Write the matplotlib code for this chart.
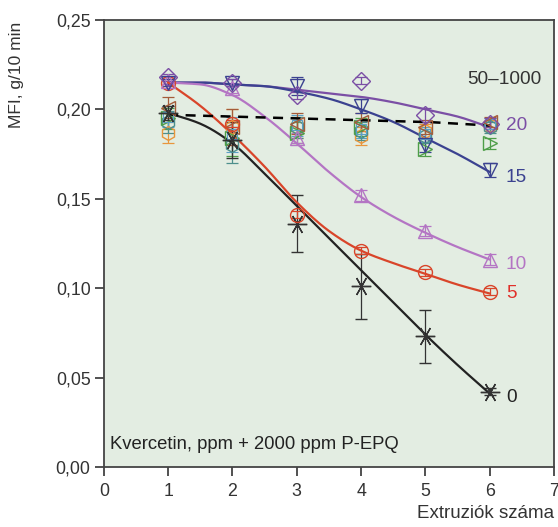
import numpy as np
import matplotlib.pyplot as plt

plt.rcParams['font.family'] = ['Liberation Sans', 'DejaVu Sans']

extr = [1, 2, 3, 4, 5, 6]

# mért pontok (MFI, g/10 min)
mfi_0 = [0.198, 0.183, 0.136, 0.101, 0.073, 0.042]
err_0 = [0.004, 0.010, 0.016, 0.018, 0.015, 0.002]
mfi_5 = [0.215, 0.192, 0.141, 0.121, 0.109, 0.098]
mfi_10 = [0.216, 0.212, 0.184, 0.152, 0.132, 0.116]
err_10 = [0.002, 0.003, 0.003, 0.003, 0.003, 0.003]
mfi_15 = [0.215, 0.215, 0.213, 0.202, 0.180, 0.166]
err_15 = [0.002, 0.002, 0.005, 0.004, 0.004, 0.004]
mfi_20 = [0.218, 0.215, 0.208, 0.216, 0.197, 0.192]
err_20 = [0.002, 0.002, 0.002, 0.002, 0.004, 0.003]

# 50-1000 ppm csoport
mfi_50 = [0.201, 0.190, 0.192, 0.193, 0.190, 0.193]
mfi_100 = [0.195, 0.184, 0.187, 0.190, 0.178, 0.181]
mfi_250 = [0.193, 0.180, 0.190, 0.188, 0.185, 0.190]
mfi_500 = [0.187, 0.190, 0.190, 0.185, 0.188, 0.191]
mfi_1000 = [0.196, 0.186, 0.191, 0.189, 0.186, 0.192]
err_grp = [0.006, 0.010, 0.006, 0.005, 0.004, 0.003]

# illesztett görbék, leolvasva fél lépésenként
fit_x = [1, 1.5, 2, 2.5, 3, 3.5, 4, 4.5, 5, 5.5, 6]
fit_0 = [0.198, 0.192, 0.181, 0.164, 0.146, 0.128, 0.110, 0.092, 0.074, 0.057, 0.041]
fit_5 = [0.215, 0.202, 0.186, 0.168, 0.148, 0.132, 0.121, 0.114, 0.108, 0.102, 0.097]
fit_10 = [0.215, 0.214, 0.208, 0.196, 0.181, 0.165, 0.151, 0.140, 0.131, 0.123, 0.116]
fit_15 = [0.215, 0.215, 0.214, 0.213, 0.210, 0.206, 0.200, 0.193, 0.184, 0.175, 0.165]
fit_20 = [0.215, 0.215, 0.214, 0.213, 0.211, 0.209, 0.207, 0.204, 0.200, 0.196, 0.190]
fit_grp = [0.197, 0.1965, 0.196, 0.1955, 0.195, 0.1945, 0.194, 0.1935, 0.193, 0.192, 0.191]


def smooth(xs, ys, n=20):
    # monoton köbös Hermite simítás a leolvasott pontokon
    xs = np.asarray(xs, float)
    ys = np.asarray(ys, float)
    h = np.diff(xs)
    d = np.diff(ys) / h
    m = np.zeros_like(ys)
    m[0], m[-1] = d[0], d[-1]
    for i in range(1, len(ys) - 1):
        if d[i - 1] * d[i] > 0:
            m[i] = 2 / (1 / d[i - 1] + 1 / d[i])
    xo, yo = [], []
    for i in range(len(h)):
        t = np.linspace(0, 1, n, endpoint=False)
        h00 = 2 * t**3 - 3 * t**2 + 1
        h10 = t**3 - 2 * t**2 + t
        h01 = -2 * t**3 + 3 * t**2
        h11 = t**3 - t**2
        xo.extend(xs[i] + t * h[i])
        yo.extend(h00 * ys[i] + h10 * h[i] * m[i] + h01 * ys[i + 1] + h11 * h[i] * m[i + 1])
    xo.append(xs[-1])
    yo.append(ys[-1])
    return np.array(xo), np.array(yo)


fig = plt.figure(figsize=(5.58, 5.27), dpi=100)
ax = fig.add_axes([0.186, 0.114, 0.807, 0.848])
ax.set_facecolor('#e3ede2')

c0 = '#222222'
c5 = '#d9452a'
c10 = '#b475c4'
c15 = '#3b4290'
c20 = '#7b4fa5'

mk = dict(markersize=10, markerfacecolor='none', linestyle='none', capsize=4, elinewidth=0.9, capthick=0.9)

# 50-1000 csoport
ax.errorbar(extr, mfi_500, yerr=err_grp, marker='h', color='#e8963c', **mk)
ax.errorbar(extr, mfi_250, yerr=err_grp, marker='h', color='#4d8f8c', **mk)
ax.errorbar(extr, mfi_100, yerr=err_grp, marker='>', color='#4e9e48', **mk)
ax.errorbar(extr, mfi_1000, yerr=err_grp, marker='s', color='#5b9fc6', markeredgewidth=0.8,
            markersize=7, markerfacecolor='none', linestyle='none', capsize=4, elinewidth=0.9)
ax.errorbar(extr, mfi_50, yerr=err_grp, marker='<', color='#a45c3a', **mk)

ax.errorbar(extr, mfi_0, yerr=err_0, marker=(6, 2, 90), color='#333333', markersize=14,
            linestyle='none', capsize=4, elinewidth=0.9, capthick=0.9, markeredgewidth=1.0)
ax.errorbar(extr, mfi_5, yerr=[0.002] * 6, marker='o', color=c5, **mk)
ax.errorbar(extr, mfi_10, yerr=err_10, marker='^', color=c10, **mk)
ax.errorbar(extr, mfi_15, yerr=err_15, marker='v', color=c15, **mk)
ax.errorbar(extr, mfi_20, yerr=err_20, marker='D', color=c20, markersize=9,
            markerfacecolor='none', linestyle='none', capsize=4, elinewidth=0.9, capthick=0.9)

# görbék
for fy, col in [(fit_20, c20), (fit_15, c15), (fit_10, c10), (fit_5, c5), (fit_0, c0)]:
    sx, sy = smooth(fit_x, fy)
    ax.plot(sx, sy, color=col, linewidth=1.6)
sx, sy = smooth(fit_x, fit_grp)
ax.plot(sx, sy, color='black', linewidth=1.8, linestyle=(0, (4, 3)))

# címkék
ax.text(5.65, 0.217, '50–1000', fontsize=13.7, color='#333333', va='center')
ax.text(6.25, 0.191, '20', fontsize=13.7, color=c20, va='center')
ax.text(6.25, 0.162, '15', fontsize=13.7, color=c15, va='center')
ax.text(6.25, 0.113, '10', fontsize=13.7, color=c10, va='center')
ax.text(6.25, 0.097, '5', fontsize=13.7, color='#e0302a', va='center')
ax.text(6.25, 0.039, '0', fontsize=13.7, color='#222222', va='center')
ax.text(0.1, 0.008, 'Kvercetin, ppm + 2000 ppm P-EPQ', fontsize=13.3, color='#222222', va='bottom')

ax.set_xlim(0, 7)
ax.set_ylim(0, 0.25)
ax.set_xticks(range(0, 8))
yt = [0, 0.05, 0.10, 0.15, 0.20, 0.25]
ax.set_yticks(yt)
ax.set_yticklabels([f'{v:.2f}'.replace('.', ',') for v in yt])
ax.tick_params(direction='out', length=6.5, width=1.2, labelsize=12.8, colors='#333333', pad=3)
ax.tick_params(axis='x', pad=5)
for s in ax.spines.values():
    s.set_color('#444444')
    s.set_linewidth(1.3)

fig.text(0.993, 0.01, 'Extruziók száma', ha='right', va='bottom', fontsize=13.5, color='#333333')
fig.text(0.03, 0.958, 'MFI, g/10 min', rotation=90, ha='center', va='top', fontsize=12.5, color='#333333')

fig.savefig('out.png', dpi=100)
